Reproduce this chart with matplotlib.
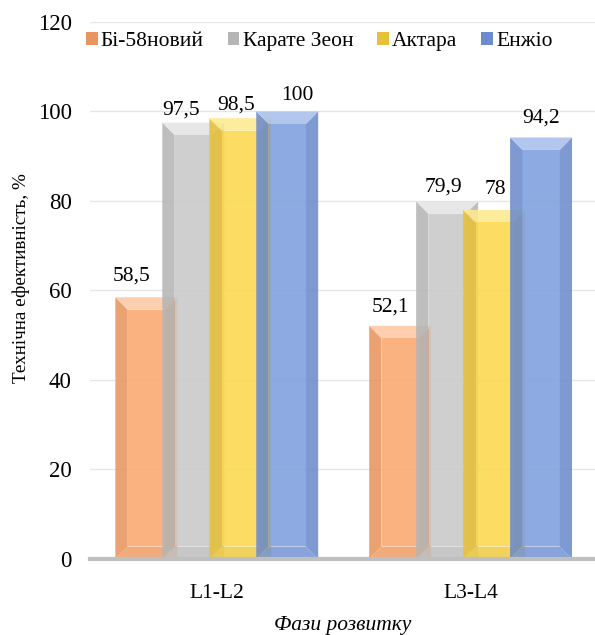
import numpy as np
import matplotlib.pyplot as plt
from matplotlib.patches import Polygon

plt.rcParams['font.family'] = ['Liberation Serif', 'DejaVu Serif']

phases = ['L1-L2', 'L3-L4']
series = ['Бі-58новий', 'Карате Зеон', 'Актара', 'Енжіо']
values = [[58.5, 52.1],
          [97.5, 79.9],
          [98.5, 78.0],
          [100.0, 94.2]]
labels = [['58,5', '52,1'],
          ['97,5', '79,9'],
          ['98,5', '78'],
          ['100', '94,2']]
# label nudges in pixels (Excel moved some labels aside)
lab_dx = [[-15, -10], [-12, -4], [-4, 1.5], [10, 0]]
lab_dy = [[21, 19], [13, 14.5], [13, 20], [15.5, 19]]

face = ['#FBA870', '#C9C9C9', '#FCD84D', '#7E9FDE']
side = ['#E8955F', '#B5B5B5', '#E8C13C', '#6C8CCB']
light = ['#FDC9A3', '#E4E4E4', '#FEEA90', '#A9C0EC']
bottom = ['#F0A068', '#C0C0C0', '#F0CC45', '#7696D5']

fs = 15.5

fig = plt.figure(figsize=(5.95, 6.35), dpi=100)
ax = fig.add_axes([0.151, 0.1197, 0.849, 0.8457])

x = np.arange(len(phases))
w = 0.244
step = 0.185
for i, s in enumerate(series):
    pos = x + (i - 1.5) * step
    bars = ax.bar(pos, values[i], w, color=face[i], alpha=0.0, zorder=3,
                  label=s, linewidth=0)
    for j, b in enumerate(bars):
        x0, y0 = b.get_x(), b.get_y()
        bw, bh = b.get_width(), b.get_height()
        x1, y1 = x0 + bw, y0 + bh
        dx = 0.2 * bw
        dy = 2.8
        pieces = [
            ([(x0, y0), (x0 + dx, y0 + dy), (x0 + dx, y1 - dy), (x0, y1)], side[i]),
            ([(x1, y0), (x1 - dx, y0 + dy), (x1 - dx, y1 - dy), (x1, y1)], side[i]),
            ([(x0, y1), (x0 + dx, y1 - dy), (x1 - dx, y1 - dy), (x1, y1)], light[i]),
            ([(x0, y0), (x0 + dx, y0 + dy), (x1 - dx, y0 + dy), (x1, y0)], bottom[i]),
            ([(x0 + dx, y0 + dy), (x0 + dx, y1 - dy), (x1 - dx, y1 - dy),
              (x1 - dx, y0 + dy)], face[i]),
        ]
        for pts, c in pieces:
            ax.add_patch(Polygon(pts, closed=True, facecolor=c, edgecolor='none',
                                 alpha=0.88, zorder=3))
        ax.annotate(labels[i][j], (x0 + bw / 2, y1),
                    xytext=(lab_dx[i][j], lab_dy[i][j]),
                    textcoords='offset pixels', ha='center', va='center',
                    fontsize=fs, zorder=5)

ax.set_ylim(0, 120)
ax.set_xlim(-0.5, 1.49)
ax.set_yticks(range(0, 121, 20))
ax.set_xticks(x)
ax.set_xticklabels(phases)
ax.tick_params(axis='both', length=0, labelsize=fs)
ax.tick_params(axis='y', labelsize=16.5, pad=13)
ax.tick_params(axis='x', pad=18)
ax.grid(axis='y', color='#E6E6E6', linewidth=1, zorder=0)
for sp in ['top', 'right', 'left']:
    ax.spines[sp].set_visible(False)
ax.spines['bottom'].set_color('#BFBFBF')
ax.spines['bottom'].set_linewidth(3)
ax.spines['bottom'].set_zorder(4)

# y title placed as plain figure text
fig.text(0.035, 0.562, 'Технічна ефективність, %', rotation=90, fontsize=13.8,
         ha='center', va='center')
ax.set_xlabel('Фази розвитку', fontsize=fs, style='italic')
ax.xaxis.set_label_coords(0.5, -0.106)

handles = [Polygon([(0, 0)], closed=True, facecolor=side[i], edgecolor='none')
           for i in range(len(series))]
ax.legend(handles, series, loc='center left', bbox_to_anchor=(-0.025, 0.963),
          ncol=4, frameon=False, fontsize=fs, handlelength=0.55,
          handleheight=0.55, handletextpad=0.15, columnspacing=1.1,
          borderaxespad=0)

fig.savefig('out.png', dpi=100)
